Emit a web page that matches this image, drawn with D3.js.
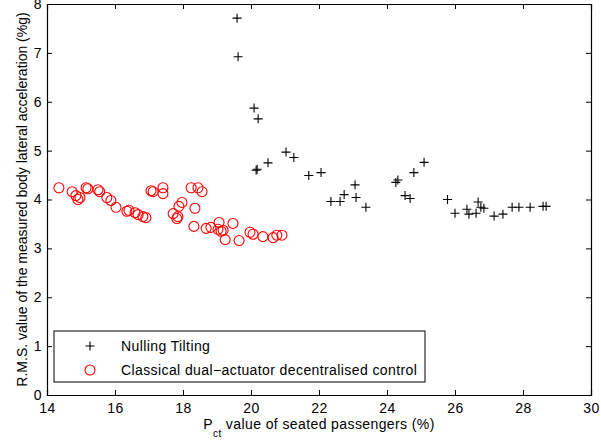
<!DOCTYPE html>
<html>
<head>
<meta charset="utf-8">
<script src="https://cdn.jsdelivr.net/npm/d3@7"></script>
<style>
  body { margin: 0; background: #fff; }
  svg text { font-family: "Liberation Sans", Arial, sans-serif; }
</style>
</head>
<body>
<svg id="chart"></svg>
<script>
// Nulling Tilting (crosses)
const tiltX = [19.59, 19.62, 20.09, 20.21, 20.15, 20.18, 20.50, 21.03, 21.26, 21.70, 22.06, 22.35, 22.62, 22.74, 23.06, 23.09, 23.38, 24.26, 24.32, 24.53, 24.68, 24.79, 25.09, 25.78, 26.00, 26.35, 26.41, 26.62, 26.68, 26.76, 26.85, 27.15, 27.41, 27.68, 27.88, 28.21, 28.59, 28.68];
const tiltY = [7.71, 6.92, 5.87, 5.65, 4.60, 4.62, 4.75, 4.97, 4.86, 4.49, 4.55, 3.96, 3.96, 4.10, 4.30, 4.04, 3.84, 4.35, 4.40, 4.08, 4.02, 4.55, 4.76, 4.00, 3.72, 3.80, 3.70, 3.72, 3.95, 3.84, 3.82, 3.66, 3.70, 3.84, 3.84, 3.84, 3.86, 3.86];

// Classical dual-actuator decentralised control (circles)
const classicX = [14.35, 14.74, 14.85, 14.91, 14.97, 15.15, 15.20, 15.50, 15.55, 15.76, 15.88, 16.03, 16.35, 16.41, 16.59, 16.68, 16.82, 16.91, 17.06, 17.12, 17.41, 17.41, 17.71, 17.82, 17.85, 17.88, 17.97, 18.24, 18.35, 18.44, 18.56, 18.32, 18.68, 18.82, 19.03, 19.06, 19.12, 19.18, 19.24, 19.47, 19.65, 19.97, 20.06, 20.35, 20.65, 20.76, 20.91];
const classicY = [4.24, 4.16, 4.08, 4.00, 4.04, 4.24, 4.22, 4.20, 4.16, 4.04, 3.98, 3.84, 3.76, 3.78, 3.73, 3.69, 3.65, 3.63, 4.18, 4.16, 4.24, 4.12, 3.71, 3.61, 3.65, 3.86, 3.94, 4.24, 3.82, 4.24, 4.16, 3.45, 3.41, 3.43, 3.39, 3.53, 3.35, 3.37, 3.18, 3.51, 3.16, 3.33, 3.29, 3.24, 3.22, 3.27, 3.27];

const xTicks = [14, 16, 18, 20, 22, 24, 26, 28, 30];
const yTicks = [0, 1, 2, 3, 4, 5, 6, 7, 8];
const legendLabels = ["Nulling Tilting", "Classical dual\u2212actuator decentralised control"];

const width = 601, height = 444;
const margin = { left: 47, right: 10, top: 4, bottom: 49 };

const svg = d3.select("#chart").attr("width", width).attr("height", height);

const x = d3.scaleLinear().domain([14, 30]).range([margin.left, width - margin.right]);
const y = d3.scaleLinear().domain([0, 8]).range([height - margin.bottom, margin.top]);

const tick = 5;
const fs = 14, ls = "0.4px";

// axes, MATLAB style inward ticks on all four sides
svg.append("g")
   .attr("transform", `translate(0, ${y(0)})`)
   .call(d3.axisBottom(x).tickValues(xTicks).tickSize(-tick).tickPadding(8).tickFormat(d3.format("d")));
svg.append("g")
   .attr("transform", `translate(0, ${y(8)})`)
   .call(d3.axisTop(x).tickValues(xTicks).tickSize(-tick).tickFormat(""));
svg.append("g")
   .attr("transform", `translate(${x(14)}, 0)`)
   .call(d3.axisLeft(y).tickValues(yTicks).tickSize(-tick).tickPadding(5).tickFormat(d3.format("d")));
svg.append("g")
   .attr("transform", `translate(${x(30)}, 0)`)
   .call(d3.axisRight(y).tickValues(yTicks).tickSize(-tick).tickFormat(""));

svg.selectAll(".domain").attr("stroke", "#000").attr("stroke-width", 1.2);
svg.selectAll(".tick line").attr("stroke", "#000");
svg.selectAll(".tick text").attr("font-size", fs).attr("fill", "#000")
   .style("letter-spacing", ls)
   .style("font-family", "'Liberation Sans', Arial, sans-serif");

// markers
const tilt = tiltX.map((v, i) => [v, tiltY[i]]);
const classic = classicX.map((v, i) => [v, classicY[i]]);

const arm = 4.5;
svg.append("g").selectAll("path")
   .data(tilt)
   .enter()
   .append("path")
   .attr("d", d => `M${x(d[0]) - arm},${y(d[1])}H${x(d[0]) + arm}M${x(d[0])},${y(d[1]) - arm}V${y(d[1]) + arm}`)
   .attr("stroke", "#000")
   .attr("stroke-width", 1.1)
   .attr("fill", "none");

svg.append("g").selectAll("circle")
   .data(classic)
   .enter()
   .append("circle")
   .attr("cx", d => x(d[0]))
   .attr("cy", d => y(d[1]))
   .attr("r", 5)
   .attr("fill", "none")
   .attr("stroke", "#ff0000")
   .attr("stroke-width", 1.1);

// legend
const lg = svg.append("g");
lg.append("rect")
  .attr("x", 54).attr("y", 331).attr("width", 371).attr("height", 51)
  .attr("fill", "#fff").attr("stroke", "#000").attr("stroke-width", 1);
const lx = 90, ly = [346, 370];
lg.append("path")
  .attr("d", `M${lx - arm},${ly[0]}H${lx + arm}M${lx},${ly[0] - arm}V${ly[0] + arm}`)
  .attr("stroke", "#000").attr("stroke-width", 1.1);
lg.append("circle")
  .attr("cx", lx).attr("cy", ly[1]).attr("r", 5)
  .attr("fill", "none").attr("stroke", "#ff0000").attr("stroke-width", 1.1);
lg.selectAll("text.leg")
  .data(legendLabels)
  .enter()
  .append("text")
  .attr("class", "leg")
  .attr("x", 121)
  .attr("y", (d, i) => ly[i])
  .attr("dy", "0.35em")
  .attr("font-size", fs)
  .style("letter-spacing", ls)
  .text(d => d);

// axis labels
const xl = svg.append("text")
  .attr("x", (x(14) + x(30)) / 2)
  .attr("y", 429)
  .attr("text-anchor", "middle")
  .attr("font-size", fs)
  .style("letter-spacing", ls);
xl.append("tspan").text("P");
xl.append("tspan").attr("dy", 8).attr("font-size", 10).text("ct");
xl.append("tspan").attr("dy", -8).text(" value of seated passengers (%)");

svg.append("text")
  .attr("transform", `translate(27, ${(y(0) + y(8)) / 2}) rotate(-90)`)
  .attr("text-anchor", "middle")
  .attr("font-size", fs)
  .text("R.M.S. value of the measured body lateral acceleration (%g)");
</script>
</body>
</html>
